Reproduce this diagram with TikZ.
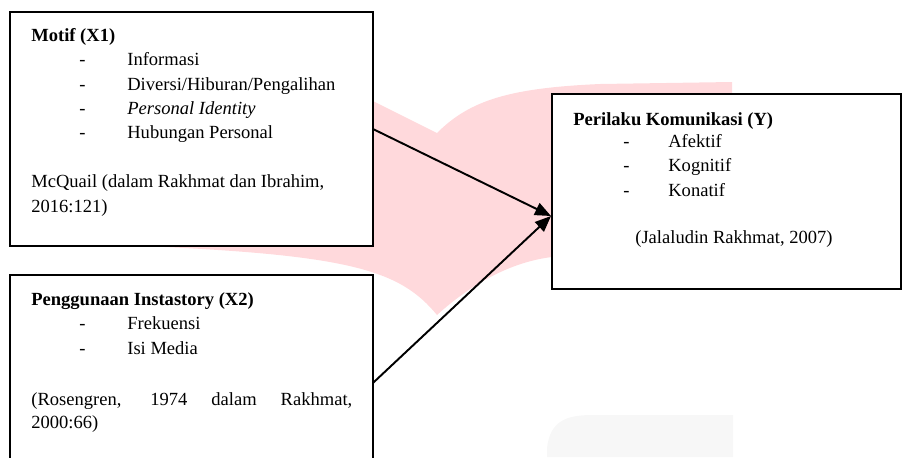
\documentclass[tikz,border=0pt]{standalone}
\usepackage{fontspec}
\setmainfont{Liberation Serif}
\usepackage{tikz}
\usetikzlibrary{arrows.meta}
\definecolor{markpink}{RGB}{255,217,220}
\definecolor{markgray}{RGB}{247,247,247}
\tikzset{
  var box/.style={
    rectangle,
    draw=black,
    fill=white,
    line width=1.1pt,
    anchor=north west,
    inner sep=0pt,
    outer sep=0pt
  },
  line text/.style={
    anchor=base west,
    inner sep=0pt,
    font=\fontsize{10.55}{13.9}\selectfont
  },
  arrow/.style={
    -{Triangle[length=0.32cm,width=0.26cm]},
    line width=1.1pt
  }
}

\begin{document}
\begin{tikzpicture}[x=0.02cm, y=-0.02cm]
  \path[use as bounding box, clip] (0,0) rectangle (903,457);

  % Watermark
  \fill[markpink] (300,101) -- (373,101) -- (437,133)
    .. controls (470,100) and (510,88) .. (600,84) -- (732,82) -- (732,262) -- (552,257)
    .. controls (510,262) and (470,285) .. (437,315)
    .. controls (400,270) and (350,255) .. (143,246) -- cycle;
  \fill[markgray] (547,457) -- (547,448) .. controls (550,422) and (565,415) .. (592,415)
    -- (733,415) -- (733,457) -- cycle;

  % Motif block
  \node[var box, minimum width=7.26cm, minimum height=4.68cm] (motif) at (10,12) {};
  \node[line text] (motiftitle) at (31,41) {\textbf{Motif (X1)}};
  \node[line text] (motifd1) at (79,65) {-};
  \node[line text] (motifi1) at (127,65) {Informasi};
  \node[line text] (motifd2) at (79,90) {-};
  \node[line text] (motifi2) at (127,90) {Diversi/Hiburan/Pengalihan};
  \node[line text] (motifd3) at (79,114) {-};
  \node[line text] (motifi3) at (127,114) {\textit{Personal Identity}};
  \node[line text] (motifd4) at (79,138) {-};
  \node[line text] (motifi4) at (127,138) {Hubungan Personal};
  \node[line text] (motifsrc) at (31,187) {McQuail (dalam Rakhmat dan Ibrahim,};
  \node[line text] (motifsrcb) at (31,212) {2016:121)};

  % Instastory block
  \node[var box, minimum width=7.26cm, minimum height=4.32cm] (usage) at (10,275) {};
  \node[line text] (usagetitle) at (31,305) {\textbf{Penggunaan Instastory (X2)}};
  \node[line text] (usaged1) at (79,329) {-};
  \node[line text] (usagei1) at (127,329) {Frekuensi};
  \node[line text] (usaged2) at (79,354) {-};
  \node[line text] (usagei2) at (127,354) {Isi Media};
  \node[line text] (usagesrc) at (31,405) {\makebox[6.42cm][s]{(Rosengren, 1974 dalam Rakhmat,}};
  \node[line text] (usagesrcb) at (31,428) {2000:66)};

  % Perilaku block
  \node[var box, minimum width=6.98cm, minimum height=3.9cm] (behav) at (552,94) {};
  \node[line text] (behavtitle) at (573,125) {\textbf{Perilaku Komunikasi (Y)}};
  \node[line text] (behavd1) at (623,147) {-};
  \node[line text] (behavi1) at (668,147) {Afektif};
  \node[line text] (behavd2) at (623,171) {-};
  \node[line text] (behavi2) at (668,171) {Kognitif};
  \node[line text] (behavd3) at (623,196) {-};
  \node[line text] (behavi3) at (668,196) {Konatif};
  \node[line text] (behavsrc) at (635,243) {(Jalaludin Rakhmat, 2007)};

  % Arrows
  \coordinate (behavin) at (551,216);
  \draw[arrow] (motif.east) -- (behavin);
  \draw[arrow] (usage.east) -- (behavin);
\end{tikzpicture}
\end{document}
